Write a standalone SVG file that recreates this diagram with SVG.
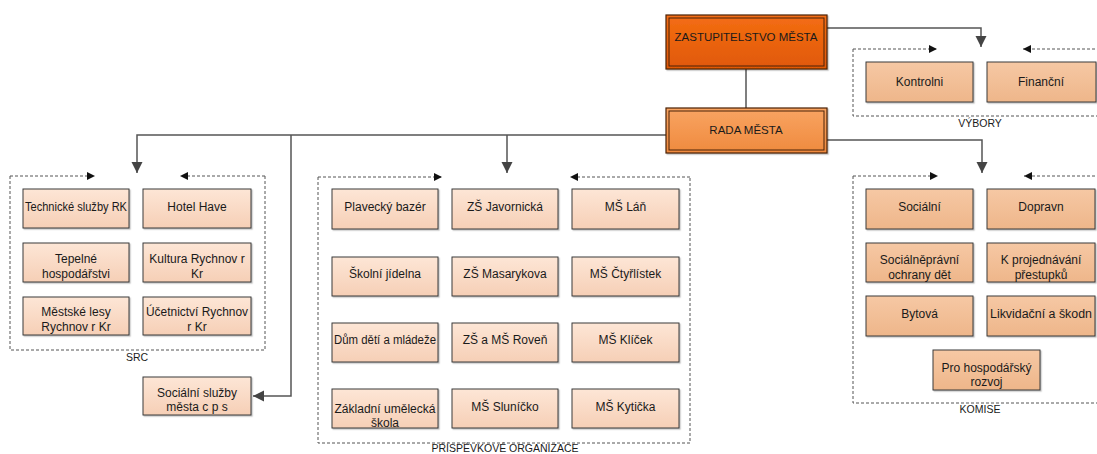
<svg xmlns="http://www.w3.org/2000/svg" width="1097" height="454" viewBox="0 0 1097 454">
<defs>
<linearGradient id="gZast" x1="0" y1="0" x2="0" y2="1"><stop offset="0" stop-color="#f46e14"/><stop offset="1" stop-color="#e05806"/></linearGradient>
<linearGradient id="gRada" x1="0" y1="0" x2="0" y2="1"><stop offset="0" stop-color="#f9a462"/><stop offset="1" stop-color="#ef8a3e"/></linearGradient>
<linearGradient id="gPeach" x1="0" y1="0" x2="0" y2="1"><stop offset="0" stop-color="#f6c8a4"/><stop offset="1" stop-color="#eeb68a"/></linearGradient>
<linearGradient id="gLight" x1="0" y1="0" x2="0" y2="1"><stop offset="0" stop-color="#fde6d6"/><stop offset="1" stop-color="#f6cfb6"/></linearGradient>
<filter id="sh" x="-10%" y="-10%" width="130%" height="140%"><feDropShadow dx="1.2" dy="1.2" stdDeviation="0.6" flood-color="#000" flood-opacity="0.25"/></filter>
<marker id="arr" markerUnits="userSpaceOnUse" markerWidth="12" markerHeight="12" refX="11" refY="5.5" orient="auto" viewBox="0 0 12 12"><path d="M0,0 L11,5.5 L0,11 z" fill="#444"/></marker>
<marker id="darr" markerUnits="userSpaceOnUse" markerWidth="9" markerHeight="9" refX="8" refY="4" orient="auto" viewBox="0 0 9 9"><path d="M0,0 L8,4 L0,8 z" fill="#111"/></marker>
</defs>
<style>
text{font-family:"Liberation Sans",Arial,sans-serif;fill:#1a1a1a;text-anchor:middle}
.t{font-size:12px}
.h{font-size:11.5px}
.lbl{font-size:10.5px}
.box{stroke:#3a3a3a;stroke-width:1;filter:url(#sh)}
.lt{fill:url(#gLight)}
.pc{fill:url(#gPeach)}
.con{fill:none;stroke:#555;stroke-width:1.5}
.dash{fill:none;stroke:#555;stroke-width:1;stroke-dasharray:3 2}
.dm{fill:none;stroke:#555;stroke-width:1;stroke-dasharray:3 2;marker-end:url(#darr)}
</style>
<rect width="1097" height="454" fill="#fff"/>

<g id="groups">
<path class="dash" d="M10,176 V350 H265 V176"/>
<path class="dm" d="M10,176 H95"/>
<path class="dm" d="M265,176 H180"/>
<text class="lbl" x="137" y="361">SRC</text>

<path class="dash" d="M318,177 V443 H690 V177"/>
<path class="dm" d="M318,177 H442"/>
<path class="dm" d="M690,177 H570"/>
<text class="lbl" x="505" y="452">PŘÍSPĚVKOVÉ ORGANIZACE</text>

<path class="dash" d="M853,176 V403 H1100"/>
<path class="dm" d="M853,176 H938"/>
<path class="dm" d="M1100,176 H1024"/>
<text class="lbl" x="980" y="413">KOMISE</text>

<path class="dash" d="M853,49 V116 H1100"/>
<path class="dm" d="M853,49 H937"/>
<path class="dm" d="M1100,49 H1023"/>
<text class="lbl" x="980" y="127">VÝBORY</text>
</g>

<g id="connectors">
<path class="con" d="M827,28 H981 V47" marker-end="url(#arr)"/>
<path class="con" d="M746,69 V108"/>
<path class="con" d="M666,135 H137 V173" marker-end="url(#arr)"/>
<path class="con" d="M507,135 V173" marker-end="url(#arr)"/>
<path class="con" d="M291,135 V396 H253" marker-end="url(#arr)"/>
<path class="con" d="M827,140 H982 V173" marker-end="url(#arr)"/>
</g>

<g id="zastupitelstvo">
<rect x="666" y="15" width="161" height="54" fill="url(#gZast)" stroke="#4a2208" stroke-width="1.2" filter="url(#sh)"/>
<rect x="669" y="18" width="155" height="48" fill="none" stroke="#4a2208" stroke-width="1"/>
<text class="h" x="746" y="41">ZASTUPITELSTVO MĚSTA</text>
</g>
<g id="rada">
<rect x="666" y="108" width="161" height="45" fill="url(#gRada)" stroke="#4a2208" stroke-width="1.2" filter="url(#sh)"/>
<rect x="669" y="111" width="155" height="39" fill="none" stroke="#4a2208" stroke-width="1"/>
<text class="h" x="746" y="134">RADA MĚSTA</text>
</g>

<g id="kontrolni"><rect class="box pc" x="866" y="62" width="107" height="40"/><text class="t" x="919.5" y="86">Kontrolni</text></g>
<g id="financni"><rect class="box pc" x="987" y="62" width="109" height="40"/><text class="t" x="1041" y="86">Finanční</text></g>

<g id="technicke"><rect class="box lt" x="23" y="189" width="106" height="39"/><text class="t" x="76" y="211" textLength="102" lengthAdjust="spacingAndGlyphs">Technické služby RK</text></g>
<g id="hotel"><rect class="box lt" x="143" y="189" width="108" height="39"/><text class="t" x="197" y="211">Hotel Have</text></g>
<g id="tepelne"><rect class="box lt" x="23" y="243" width="106" height="39"/><text class="t" x="76" y="263">Tepelné</text><text class="t" x="76" y="278">hospodářstvi</text></g>
<g id="kultura"><rect class="box lt" x="143" y="243" width="108" height="39"/><text class="t" x="197" y="263">Kultura Rychnov r</text><text class="t" x="197" y="278">Kr</text></g>
<g id="lesy"><rect class="box lt" x="23" y="297" width="106" height="38"/><text class="t" x="76" y="316">Městské lesy</text><text class="t" x="76" y="331">Rychnov r   Kr</text></g>
<g id="ucetnictvi"><rect class="box lt" x="143" y="297" width="108" height="38"/><text class="t" x="197" y="316" textLength="102" lengthAdjust="spacingAndGlyphs">Účetnictví Rychnov</text><text class="t" x="197" y="331">r   Kr</text></g>

<g id="socialni-sluzby"><rect class="box lt" x="143" y="377" width="108" height="38"/><text class="t" x="197" y="397">Sociální služby</text><text class="t" x="197" y="411">města c p s</text></g>

<g id="plavecky"><rect class="box lt" x="332" y="189" width="106" height="40"/><text class="t" x="385" y="211">Plavecký bazér</text></g>
<g id="zs-javornicka"><rect class="box lt" x="452" y="189" width="106" height="40"/><text class="t" x="505" y="211">ZŠ Javornická</text></g>
<g id="ms-lan"><rect class="box lt" x="572" y="189" width="107" height="40"/><text class="t" x="625.5" y="211">MŠ Láň</text></g>
<g id="skolni-jidelna"><rect class="box lt" x="332" y="257" width="106" height="39"/><text class="t" x="385" y="278">Školní jídelna</text></g>
<g id="zs-masarykova"><rect class="box lt" x="452" y="257" width="106" height="39"/><text class="t" x="505" y="278">ZŠ Masarykova</text></g>
<g id="ms-ctyrlistek"><rect class="box lt" x="572" y="257" width="107" height="39"/><text class="t" x="625.5" y="278">MŠ Čtyřlístek</text></g>
<g id="ddm"><rect class="box lt" x="332" y="323" width="106" height="39"/><text class="t" x="385" y="344" textLength="102" lengthAdjust="spacingAndGlyphs">Dům dětí a mládeže</text></g>
<g id="zs-ms-roven"><rect class="box lt" x="452" y="323" width="106" height="39"/><text class="t" x="505" y="344">ZŠ a MŠ Roveň</text></g>
<g id="ms-klicek"><rect class="box lt" x="572" y="323" width="107" height="39"/><text class="t" x="625.5" y="344">MŠ Klíček</text></g>
<g id="zus"><rect class="box lt" x="332" y="389" width="106" height="39"/><text class="t" x="385" y="413" textLength="101" lengthAdjust="spacingAndGlyphs">Základní umělecká</text><text class="t" x="385" y="427">škola</text></g>
<g id="ms-slunicko"><rect class="box lt" x="452" y="389" width="106" height="39"/><text class="t" x="505" y="411">MŠ Sluníčko</text></g>
<g id="ms-kyticka"><rect class="box lt" x="572" y="389" width="107" height="39"/><text class="t" x="625.5" y="411">MŠ Kytička</text></g>

<g id="k-socialni"><rect class="box pc" x="866" y="189" width="107" height="40"/><text class="t" x="919.5" y="211">Sociální</text></g>
<g id="k-dopravni"><rect class="box pc" x="987" y="189" width="108" height="40"/><text class="t" x="1041" y="211">Dopravn</text></g>
<g id="k-ospod"><rect class="box pc" x="866" y="243" width="107" height="39"/><text class="t" x="919.5" y="264">Sociálněprávní</text><text class="t" x="919.5" y="279">ochrany dět</text></g>
<g id="k-prestupky"><rect class="box pc" x="987" y="243" width="108" height="39"/><text class="t" x="1041" y="264">K projednávání</text><text class="t" x="1041" y="279">přestupků</text></g>
<g id="k-bytova"><rect class="box pc" x="866" y="296" width="107" height="40"/><text class="t" x="919.5" y="318">Bytová</text></g>
<g id="k-likvidacni"><rect class="box pc" x="987" y="296" width="108" height="40"/><text class="t" x="1041" y="318" textLength="102" lengthAdjust="spacingAndGlyphs">Likvidační a škodn</text></g>
<g id="k-rozvoj"><rect class="box pc" x="933" y="350" width="107" height="40"/><text class="t" x="986.5" y="372">Pro hospodářský</text><text class="t" x="986.5" y="386">rozvoj</text></g>
</svg>
